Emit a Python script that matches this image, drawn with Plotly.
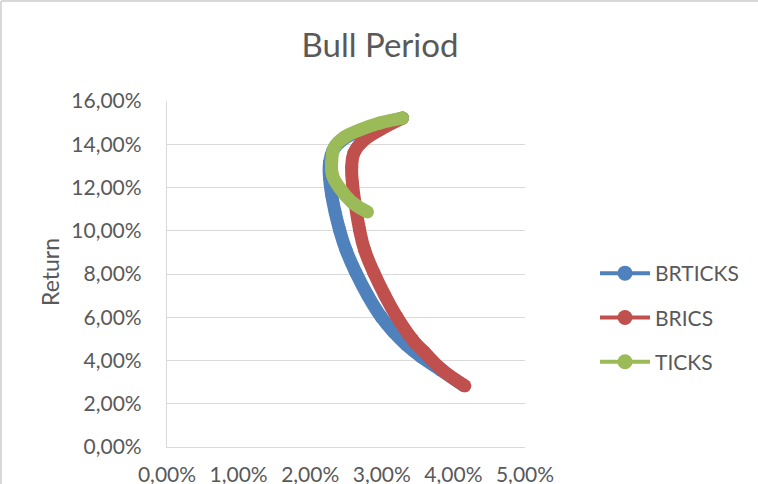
import numpy as np
import plotly.graph_objects as go

# Efficient frontiers, bull period: risk (std, %) vs. return (%)
brticks_risk = [3.29, 2.97, 2.66, 2.45, 2.32, 2.27, 2.27, 2.30, 2.35, 2.41, 2.50, 2.64,
                2.80, 2.99, 3.16, 3.34, 3.55, 3.82, 4.15]
brticks_ret = [15.21, 14.93, 14.57, 14.20, 13.73, 13.13, 12.44, 11.66, 10.83, 10.04, 9.11, 8.05,
               7.03, 6.02, 5.33, 4.73, 4.17, 3.57, 2.83]

brics_risk = [3.29, 2.97, 2.72, 2.61, 2.58, 2.59, 2.63, 2.69, 2.76, 2.89, 3.04, 3.21,
              3.43, 3.59, 3.84, 4.16]
brics_ret = [15.21, 14.66, 14.10, 13.59, 12.95, 12.21, 11.19, 10.04, 9.11, 8.05, 7.03, 6.02,
             4.96, 4.40, 3.57, 2.83]

ticks_risk = [2.80, 2.58, 2.41, 2.31, 2.30, 2.34, 2.48, 2.69, 2.97, 3.29]
ticks_ret = [10.87, 11.33, 11.98, 12.58, 13.18, 13.87, 14.33, 14.66, 14.98, 15.21]

series = [
    ("BRTICKS", brticks_risk, brticks_ret, "#4F81BD"),
    ("BRICS", brics_risk, brics_ret, "#C0504D"),
    ("TICKS", ticks_risk, ticks_ret, "#9BBB59"),
]

FONT = "Lato"
TXT = "#595959"

fig = go.Figure()
# thick smoothed frontier curves
for name, xr, yr, col in series:
    fig.add_trace(go.Scatter(
        x=np.array(xr) / 100, y=np.array(yr) / 100, name=name,
        mode="lines+markers", showlegend=False,
        line=dict(color=col, width=13, shape="spline", smoothing=1.3),
        marker=dict(color=col, size=13),
        hoverinfo="x+y+name",
    ))
# legend entries: thin line with a round marker
for name, xr, yr, col in series:
    fig.add_trace(go.Scatter(
        x=[None], y=[None], name=name, mode="lines+markers",
        line=dict(color=col, width=4), marker=dict(color=col, size=15),
        legendgroup=name, showlegend=True,
    ))

fig.update_layout(
    width=758, height=484,
    margin=dict(l=167, r=233, t=101, b=37),
    paper_bgcolor="white", plot_bgcolor="white",
    separators=",.",
    font=dict(family=FONT, color=TXT, size=21),
    title=dict(text="Bull Period", x=380 / 758, xref="container", xanchor="center",
               y=1 - 45 / 484, yref="container", yanchor="middle",
               font=dict(family=FONT, size=33, color=TXT)),
    showlegend=True,
    legend=dict(x=(595 - 167) / 358, xanchor="left", y=(447 - 253) / 346, yanchor="top",
                font=dict(family=FONT, size=21, color=TXT), itemwidth=50,
                tracegroupgap=14, traceorder="grouped", bgcolor="rgba(0,0,0,0)"),
    xaxis=dict(range=[0, 0.05], dtick=0.01, tickformat=".2%", showgrid=False,
               zeroline=False, showline=True, linecolor="#D9D9D9", linewidth=1.3,
               ticks="", ticklabelstandoff=9, automargin=False,
               tickfont=dict(family=FONT, size=21, color=TXT)),
    yaxis=dict(range=[0, 0.16], dtick=0.02, tickformat=".2%", showgrid=True,
               gridcolor="#D9D9D9", gridwidth=1.3, zeroline=False, showline=True,
               linecolor="#D9D9D9", linewidth=1.3, ticks="", ticklabelstandoff=20,
               automargin=False, tickfont=dict(family=FONT, size=21, color=TXT)),
    annotations=[dict(text="Return", textangle=-90, xref="paper", yref="paper",
                      x=(50 - 167) / 358, y=(447 - 272) / 346, xanchor="center",
                      yanchor="middle", showarrow=False,
                      font=dict(family=FONT, size=23, color=TXT))],
    shapes=[
        dict(type="line", xref="paper", yref="paper", x0=(1 - 167) / 358, x1=(1 - 167) / 358,
             y0=-0.2, y1=(447 - 1) / 346, line=dict(color="#D9D9D9", width=2)),
        dict(type="line", xref="paper", yref="paper", x0=(1 - 167) / 358, x1=1.8,
             y0=(447 - 1) / 346, y1=(447 - 1) / 346, line=dict(color="#D9D9D9", width=2)),
    ],
)

fig.write_html("out.html")
